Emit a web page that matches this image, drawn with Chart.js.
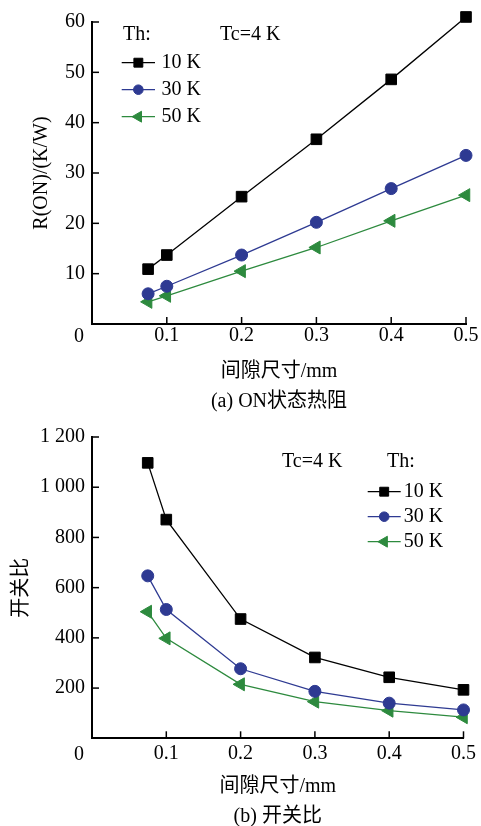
<!DOCTYPE html>
<html><head><meta charset="utf-8">
<script src="https://cdn.jsdelivr.net/npm/chart.js@4/dist/chart.umd.min.js"></script>
<style>
html,body{margin:0;padding:0;background:#fff;overflow:hidden;width:481px;height:826px}
.box{position:absolute;left:0;width:481px;height:420px}
#b1{top:0}
#b2{top:420px}
</style></head><body>
<div class="box" id="b1"><canvas id="c1"></canvas></div>
<div class="box" id="b2"><canvas id="c2"></canvas></div>
<script>
// ---- data ----
const gapSizes = [0.075, 0.1, 0.2, 0.3, 0.4, 0.5];
const seriesLabels = ['10 K', '30 K', '50 K'];
const rOn10K = [10.9, 13.7, 25.3, 36.7, 48.6, 61.0];
const rOn30K = [6.0, 7.5, 13.7, 20.2, 26.9, 33.5];
const rOn50K = [4.4, 5.6, 10.5, 15.2, 20.5, 25.6];
const ratio10K = [1097, 871, 475, 322, 243, 193];
const ratio30K = [647, 513, 277, 187, 140, 113];
const ratio50K = [504, 398, 215, 146, 110, 84];
const xTicks = [0, 0.1, 0.2, 0.3, 0.4, 0.5];
const rOnTicks = [0, 10, 20, 30, 40, 50, 60];
const ratioTicks = [0, 200, 400, 600, 800, 1000, 1200];
const xTitle = '间隙尺寸/mm';
const captionA = '(a) ON状态热阻';
const captionB = '(b) 开关比';
const yTitleA = 'R(ON)/(K/W)';
const yTitleB = '开关比';
const noteTh = 'Th:';
const noteTc = 'Tc=4 K';

// ---- styles ----
const FAMILY = '"Liberation Serif", "Times New Roman", "Noto Sans CJK SC", serif';
const FONT = '20px ' + FAMILY;
const COLORS = ['#000000', '#2e3a92', '#2d8a3e'];
const STYLES = [
  {pointStyle: 'rect', pointRadius: 7.5, pointRotation: 0},
  {pointStyle: 'circle', pointRadius: 6, pointRotation: 0},
  {pointStyle: 'triangle', pointRadius: 7.5, pointRotation: -90}
];

function makeDatasets(seriesArr) {
  return seriesArr.map((vals, i) => ({
    label: seriesLabels[i],
    data: gapSizes.map((g, j) => ({x: g, y: vals[j]})),
    borderColor: COLORS[i],
    backgroundColor: COLORS[i],
    pointBackgroundColor: COLORS[i],
    pointBorderColor: COLORS[i],
    borderWidth: 1.3,
    pointBorderWidth: 1,
    pointStyle: STYLES[i].pointStyle,
    pointRadius: STYLES[i].pointRadius,
    pointHoverRadius: STYLES[i].pointRadius,
    pointRotation: STYLES[i].pointRotation,
    tension: 0,
    clip: false
  }));
}

const axisDecor = {
  id: 'axisDecor',
  afterDraw(chart, args, o) {
    const {ctx, chartArea} = chart;
    const xs = chart.scales.x, ys = chart.scales.y;
    ctx.save();
    ctx.strokeStyle = '#000';
    ctx.lineWidth = 1.5;
    xs.ticks.forEach(t => {
      if (t.value === 0) return;
      const px = xs.getPixelForValue(t.value);
      ctx.beginPath(); ctx.moveTo(px, chartArea.bottom); ctx.lineTo(px, chartArea.bottom - 7); ctx.stroke();
    });
    ys.ticks.forEach(t => {
      if (t.value === 0) return;
      const py = ys.getPixelForValue(t.value);
      ctx.beginPath(); ctx.moveTo(chartArea.left, py); ctx.lineTo(chartArea.left + 7, py); ctx.stroke();
    });
    ctx.font = FONT; ctx.fillStyle = '#000';
    ctx.textAlign = 'center'; ctx.textBaseline = 'middle';
    ctx.fillText('0', chartArea.left - 13, chartArea.bottom + o.originDy);
    ctx.restore();
  }
};

const freeLegend = {
  id: 'freeLegend',
  afterDraw(chart, args, o) {
    const ctx = chart.ctx;
    ctx.save();
    ctx.font = FONT; ctx.fillStyle = '#000';
    ctx.textBaseline = 'middle'; ctx.textAlign = 'left';
    o.notes.forEach(n => ctx.fillText(n.text, n.x, n.y));
    chart.data.datasets.forEach((ds, i) => {
      const y = o.y0 + i * o.dy;
      ctx.strokeStyle = ds.borderColor; ctx.lineWidth = ds.borderWidth;
      ctx.beginPath(); ctx.moveTo(o.x0, y); ctx.lineTo(o.x0 + o.len, y); ctx.stroke();
      ctx.fillStyle = ds.backgroundColor; ctx.strokeStyle = ds.borderColor; ctx.lineWidth = 1;
      Chart.helpers.drawPoint(ctx, {pointStyle: ds.pointStyle, radius: ds.pointRadius - 1.2, rotation: ds.pointRotation || 0, borderWidth: 1}, o.x0 + o.len / 2, y);
      ctx.fillStyle = '#000';
      ctx.fillText(ds.label, o.x0 + o.len + o.gap, y);
    });
    ctx.restore();
  }
};

function makeChart(canvasId, cfg) {
  return new Chart(document.getElementById(canvasId), {
    type: 'line',
    data: {datasets: makeDatasets(cfg.series)},
    plugins: [axisDecor, freeLegend],
    options: {
      responsive: true,
      maintainAspectRatio: false,
      animation: false,
      devicePixelRatio: 1,
      layout: {padding: {left: 0, right: 15, top: cfg.top, bottom: 0}},
      plugins: {
        legend: {display: false},
        tooltip: {enabled: false},
        axisDecor: {originDy: cfg.originDy},
        freeLegend: cfg.legend
      },
      scales: {
        x: {
          type: 'linear', min: 0, max: 0.5,
          afterBuildTicks: s => { s.ticks = xTicks.map(v => ({value: v})); },
          ticks: {callback: v => v === 0 ? '' : String(v), padding: cfg.xPad, color: '#000',
                  font: {family: FAMILY, size: 20, lineHeight: 1}, maxRotation: 0, autoSkip: false},
          grid: {display: false, drawTicks: false},
          border: {display: true, color: '#000', width: 2},
          title: {display: true, text: [xTitle, cfg.caption], color: '#000',
                  font: {family: FAMILY, size: 20, lineHeight: '30px'},
                  padding: {top: 0, bottom: cfg.capPad}},
          afterFit: s => { s.height = cfg.xHeight; }
        },
        y: {
          type: 'linear', min: cfg.yTicks[0], max: cfg.yTicks[cfg.yTicks.length - 1],
          afterBuildTicks: s => { s.ticks = cfg.yTicks.map(v => ({value: v})); },
          ticks: {callback: v => v === 0 ? '' : cfg.fmt(v), padding: 7, color: '#000',
                  font: {family: FAMILY, size: 20, lineHeight: 1}},
          grid: {display: false, drawTicks: false},
          border: {display: true, color: '#000', width: 2},
          title: {display: true, text: cfg.yTitle, color: '#000',
                  font: {family: FAMILY, size: 20, lineHeight: 1.2},
                  padding: {top: cfg.yTitlePad, bottom: 0}},
          afterFit: s => { s.width = 92; }
        }
      }
    }
  });
}

const fmtSpace = v => v >= 1000 ? Math.floor(v / 1000) + ' ' + String(v % 1000).padStart(3, '0') : String(v);

makeChart('c1', {
  series: [rOn10K, rOn30K, rOn50K],
  yTicks: rOnTicks, fmt: v => String(v), yTitle: yTitleA, yTitlePad: 30,
  caption: captionA, capPad: 3.3, xHeight: 96, xPad: 2, top: 22, originDy: 13,
  legend: {x0: 121.7, len: 33.3, gap: 6.5, y0: 62.7, dy: 27,
           notes: [{text: noteTh, x: 123, y: 35}, {text: noteTc, x: 220, y: 35}]}
});
makeChart('c2', {
  series: [ratio10K, ratio30K, ratio50K],
  yTicks: ratioTicks, fmt: fmtSpace, yTitle: yTitleB, yTitlePad: 10,
  caption: captionB, capPad: 8.3, xHeight: 101.7, xPad: 5, top: 16.7, originDy: 16,
  legend: {x0: 367.7, len: 33, gap: 3, y0: 71.7, dy: 25,
           notes: [{text: noteTc, x: 282, y: 41.7}, {text: noteTh, x: 387, y: 41.7}]}
});
</script>
</body></html>
